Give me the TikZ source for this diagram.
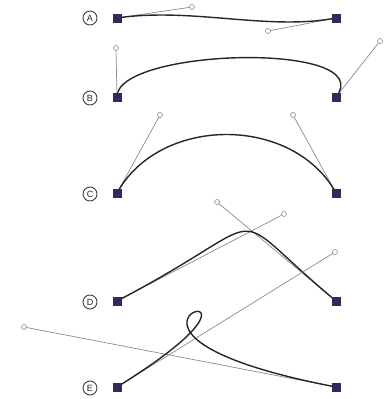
\documentclass[tikz,border=0pt]{standalone}
\usepackage{fontspec}
\setsansfont{Liberation Sans}
\definecolor{anchorc}{HTML}{2D2B63}
\definecolor{handlec}{HTML}{8A8A95}
\begin{document}
\begin{tikzpicture}[x=1pt,y=-1pt,
  anchorpt/.style={fill=anchorc,draw=anchorc,minimum size=8pt,inner sep=0pt,rectangle},
  handlept/.style={circle,draw=handlec,fill=white,line width=0.6pt,minimum size=5pt,inner sep=0pt},
  handleline/.style={draw=handlec,line width=0.7pt},
  curveline/.style={draw=black!85,line width=1.4pt},
  lab/.style={circle,draw=black!75,line width=0.9pt,minimum size=14pt,inner sep=0pt,font=\sffamily\small,text=black!85}]
\useasboundingbox (0,0) rectangle (386,399);
% labels
\node[lab] (la) at (90,18) {A};
\node[lab] (lb) at (90,98) {B};
\node[lab] (lc) at (90,194) {C};
\node[lab] (ld) at (90,302) {D};
\node[lab] (le) at (90,388) {E};
% A
\coordinate (a0) at (117,18); \coordinate (a3) at (336,18);
\coordinate (a1) at (192,7); \coordinate (a2) at (268,31);
\draw[handleline] (a0) -- (a1); \draw[handleline] (a3) -- (a2);
\draw[curveline] (a0) .. controls (a1) and (a2) .. (a3);
% B
\coordinate (b0) at (117,97); \coordinate (b3) at (336,97);
\coordinate (b1) at (116,48); \coordinate (b2) at (380,41);
\draw[handleline] (b0) -- (b1); \draw[handleline] (b3) -- (b2);
\draw[curveline] (b0) .. controls (b1) and (b2) .. (b3);
% C
\coordinate (c0) at (117,193); \coordinate (c3) at (336,193);
\coordinate (c1) at (160,115); \coordinate (c2) at (293,115);
\draw[handleline] (c0) -- (c1); \draw[handleline] (c3) -- (c2);
\draw[curveline] (c0) .. controls (c1) and (c2) .. (c3);
% D
\coordinate (d0) at (117,301); \coordinate (d3) at (336,301);
\coordinate (d1) at (284,214); \coordinate (d2) at (217,202);
\draw[handleline] (d0) -- (d1); \draw[handleline] (d3) -- (d2);
\draw[curveline] (d0) .. controls (d1) and (d2) .. (d3);
% E
\coordinate (e0) at (117,387); \coordinate (e3) at (336,387);
\coordinate (e1) at (335,252); \coordinate (e2) at (24,327);
\draw[handleline] (e0) -- (e1); \draw[handleline] (e3) -- (e2);
\draw[curveline] (e0) .. controls (e1) and (e2) .. (e3);
% points
\foreach \p in {a1,a2,b1,b2,c1,c2,d1,d2,e1,e2} \node[handlept] (h\p) at (\p) {};
\foreach \p in {a0,a3,b0,b3,c0,c3,d0,d3,e0,e3} \node[anchorpt] (n\p) at (\p) {};
\end{tikzpicture}
\end{document}
